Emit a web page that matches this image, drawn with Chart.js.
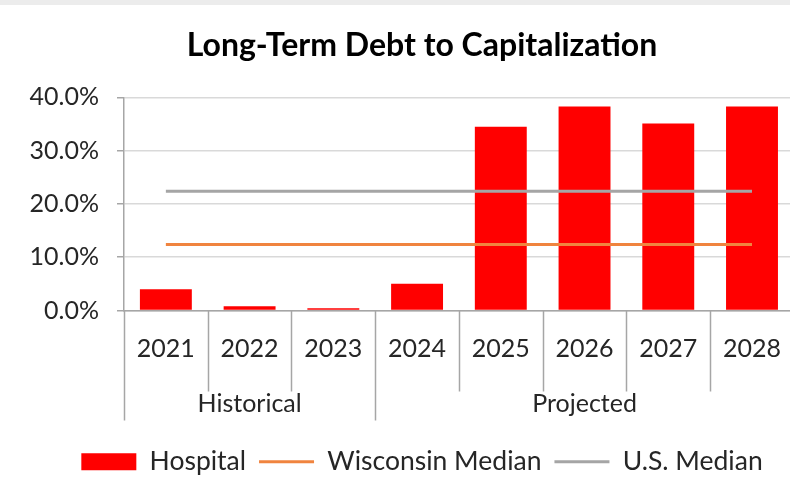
<!DOCTYPE html>
<html>
<head>
<meta charset="utf-8">
<script src="https://cdn.jsdelivr.net/npm/chart.js@4.4.0/dist/chart.umd.min.js"></script>
<style>
  html, body { margin: 0; padding: 0; background: #fff; overflow: hidden; }
  #wrap { position: relative; width: 790px; height: 479px; overflow: hidden; }
  #strip { position: absolute; left: 0; top: 0; width: 100%; height: 5px; background: #ececec; }
</style>
</head>
<body>
<div id="wrap">
  <canvas id="debtChart" width="804" height="485"></canvas>
  <div id="strip"></div>
</div>
<script>
// years and their period groups
const years = ['2021', '2022', '2023', '2024', '2025', '2026', '2027', '2028'];
const groupNames = ['Historical', 'Projected'];
const groupSizes = [3, 5];

// long-term debt to capitalization, percent
const hospital = [4.0, 0.8, 0.4, 5.0, 34.5, 38.3, 35.1, 38.3];
const wisconsinMedian = [12.4, 12.4, 12.4, 12.4, 12.4, 12.4, 12.4, 12.4];
const usMedian = [22.4, 22.4, 22.4, 22.4, 22.4, 22.4, 22.4, 22.4];

const yTicks = [0, 10, 20, 30, 40];

const axisGray = '#a6a6a6';
const textColor = '#262626';
const fontFamily = 'Lato, "Open Sans", sans-serif';

// separators under the x axis plus the Historical / Projected row
const groupRows = {
  id: 'groupRows',
  // the left padding only recentres title and legend; let the y labels use it
  afterLayout(chart) {
    chart.scales.y.left = 0;
  },
  afterDraw(chart) {
    const xs = chart.scales.x;
    const ctx = chart.ctx;
    const step = xs.getPixelForValue(1) - xs.getPixelForValue(0);
    const start = xs.getPixelForValue(0) - step / 2;
    const top = xs.top;

    const edges = [0];
    groupSizes.forEach((n, i) => edges.push(edges[i] + n));

    ctx.save();
    ctx.strokeStyle = axisGray;
    ctx.lineWidth = 1.5;
    for (let i = 0; i <= years.length; i++) {
      const px = Math.round(start + i * step) + 0.5;
      const len = edges.includes(i) ? 110 : 81;
      ctx.beginPath();
      ctx.moveTo(px, top);
      ctx.lineTo(px, top + len);
      ctx.stroke();
    }

    ctx.fillStyle = textColor;
    ctx.font = '25px ' + fontFamily;
    ctx.textAlign = 'center';
    ctx.textBaseline = 'middle';
    groupNames.forEach((name, g) => {
      const a = start + edges[g] * step;
      const b = start + edges[g + 1] * step;
      ctx.fillText(name, (a + b) / 2, top + 93);
    });
    ctx.restore();
  }
};

const ctx = document.getElementById('debtChart').getContext('2d');

new Chart(ctx, {
  type: 'bar',
  data: {
    labels: years,
    datasets: [{
      label: 'Hospital',
      data: hospital,
      backgroundColor: '#ff0000',
      borderWidth: 0,
      barPercentage: 0.62,
      categoryPercentage: 1,
      order: 1,
      pointStyle: 'rect'
    }, {
      type: 'line',
      label: 'Wisconsin Median',
      data: wisconsinMedian,
      borderColor: '#f0843f',
      backgroundColor: '#f0843f',
      borderWidth: 3,
      pointRadius: 0,
      order: 0,
      pointStyle: 'line'
    }, {
      type: 'line',
      label: 'U.S. Median',
      data: usMedian,
      borderColor: '#a5a5a5',
      backgroundColor: '#a5a5a5',
      borderWidth: 3,
      pointRadius: 0,
      order: 0,
      pointStyle: 'line'
    }]
  },
  options: {
    responsive: false,
    animation: false,
    layout: {
      padding: { left: 40, right: 0, top: 0, bottom: 0 }
    },
    scales: {
      x: {
        grid: { display: false, drawTicks: false },
        border: { display: true, color: axisGray, width: 1.5 },
        ticks: {
          color: textColor,
          font: { family: fontFamily, size: 25 },
          padding: 23,
          maxRotation: 0,
          autoSkip: false
        },
        afterFit(scale) {
          scale.height += 49;
        }
      },
      y: {
        min: 0,
        max: 40,
        afterBuildTicks(scale) {
          scale.ticks = yTicks.map(v => ({ value: v }));
        },
        grid: {
          color: '#d9d9d9',
          lineWidth: 1.5,
          tickColor: axisGray,
          tickLength: 7
        },
        border: { display: true, color: axisGray, width: 1.5 },
        ticks: {
          color: textColor,
          font: { family: fontFamily, size: 25 },
          padding: 18,
          callback: v => v.toFixed(1) + '%'
        },
        afterFit(scale) {
          scale.width = 84;
        }
      }
    },
    plugins: {
      title: {
        display: true,
        text: 'Long-Term Debt to Capitalization',
        color: '#000',
        font: { family: fontFamily, size: 32, weight: 'bold' },
        padding: { top: 26, bottom: 33 }
      },
      legend: {
        position: 'bottom',
        labels: {
          color: textColor,
          font: { family: fontFamily, size: 26.5 },
          usePointStyle: true,
          pointStyleWidth: 55,
          boxHeight: 17,
          padding: 13,
          sort: (a, b) => a.datasetIndex - b.datasetIndex
        }
      },
      tooltip: { enabled: false }
    }
  },
  plugins: [groupRows]
});
</script>
</body>
</html>
